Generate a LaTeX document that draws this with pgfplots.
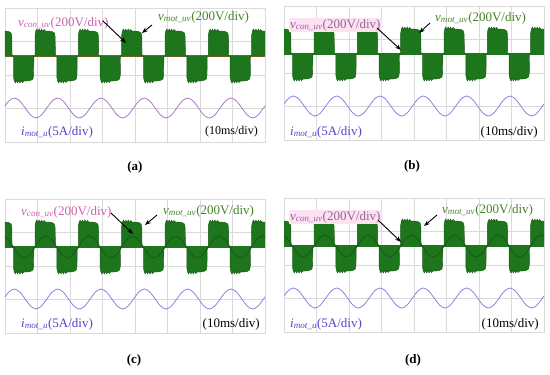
\documentclass[border=0pt]{standalone}
\usepackage{fontspec}
\setmainfont{Liberation Serif}
\usepackage{pgfplots}
\usepackage{pgfplotstable}
\pgfplotsset{compat=1.18}
\usetikzlibrary{arrows.meta}
\definecolor{scopegreen}{RGB}{30,118,28}
\definecolor{innergreen}{RGB}{24,92,24}
\definecolor{gridgray}{RGB}{218,218,218}
\definecolor{curA}{RGB}{170,120,200}
\definecolor{curB}{RGB}{150,125,225}
\definecolor{vconA}{RGB}{205,95,175}
\definecolor{vconB}{RGB}{150,100,150}
\definecolor{vconbg}{RGB}{252,226,240}
\definecolor{vmotc}{RGB}{70,130,40}
\definecolor{ilab}{RGB}{80,70,205}
\definecolor{zeroA}{RGB}{120,95,35}
\newcommand{\vcon}{\textit{v}\textsubscript{\textit{con\_uv}}}
\newcommand{\vmot}{\textit{v}\textsubscript{\textit{mot\_uv}}}
\newcommand{\imot}{\textit{i}\textsubscript{\textit{mot\_u}}}

% green envelope of v_mot_uv (panel pixel units, zero level 86)
\pgfplotstableread{
x y
-13.33 86
-13.33 107
-12.53 111
-11.53 113
-10.33 110.5
-9.13 113
-7.93 110.5
-6.73 113
-5.53 110.5
-4.33 112.5
-2.83 111
0.17 111
3.67 110.5
6.17 109
6.87 105
7.07 86
8.47 86
8.47 65
9.27 61
10.27 59
11.47 61.5
12.67 59
13.87 61.5
15.07 59
16.27 61.5
17.47 59.5
18.97 61
21.97 61
25.47 61.5
27.97 63
28.67 67
28.87 86
30 86
30 107
30.8 111
31.8 113
33.0 110.5
34.2 113
35.4 110.5
36.6 113
37.8 110.5
39.0 112.5
40.5 111
43.5 111
47.0 110.5
49.5 109
50.2 105
50.4 86
51.8 86
51.8 65
52.6 61
53.6 59
54.8 61.5
56.0 59
57.2 61.5
58.4 59
59.6 61.5
60.8 59.5
62.3 61
65.3 61
68.8 61.5
71.3 63
72.0 67
72.2 86
73.33 86
73.33 107
74.13 111
75.13 113
76.33 110.5
77.53 113
78.73 110.5
79.93 113
81.13 110.5
82.33 112.5
83.83 111
86.83 111
90.33 110.5
92.83 109
93.53 105
93.73 86
95.13 86
95.13 65
95.93 61
96.93 59
98.13 61.5
99.33 59
100.53 61.5
101.73 59
102.93 61.5
104.13 59.5
105.63 61
108.63 61
112.13 61.5
114.63 63
115.33 67
115.53 86
116.67 86
116.67 107
117.47 111
118.47 113
119.67 110.5
120.87 113
122.07 110.5
123.27 113
124.47 110.5
125.67 112.5
127.17 111
130.17 111
133.67 110.5
136.17 109
136.87 105
137.07 86
138.47 86
138.47 65
139.27 61
140.27 59
141.47 61.5
142.67 59
143.87 61.5
145.07 59
146.27 61.5
147.47 59.5
148.97 61
151.97 61
155.47 61.5
157.97 63
158.67 67
158.87 86
160 86
160 107
160.8 111
161.8 113
163.0 110.5
164.2 113
165.4 110.5
166.6 113
167.8 110.5
169.0 112.5
170.5 111
173.5 111
177.0 110.5
179.5 109
180.2 105
180.4 86
181.8 86
181.8 65
182.6 61
183.6 59
184.8 61.5
186.0 59
187.2 61.5
188.4 59
189.6 61.5
190.8 59.5
192.3 61
195.3 61
198.8 61.5
201.3 63
202.0 67
202.2 86
203.33 86
203.33 107
204.13 111
205.13 113
206.33 110.5
207.53 113
208.73 110.5
209.93 113
211.13 110.5
212.33 112.5
213.83 111
216.83 111
220.33 110.5
222.83 109
223.53 105
223.73 86
225.13 86
225.13 65
225.93 61
226.93 59
228.13 61.5
229.33 59
230.53 61.5
231.73 59
232.93 61.5
234.13 59.5
235.63 61
238.63 61
242.13 61.5
244.63 63
245.33 67
245.53 86
246.67 86
246.67 107
247.47 111
248.47 113
249.67 110.5
250.87 113
252.07 110.5
253.27 113
254.47 110.5
255.67 112.5
257.17 111
260.17 111
263.67 110.5
263.67 86
}\envtab

% inner fundamental (dark trace inside the blocks)
\pgfplotstableread{
x y
-13.33 86
-7.92 93.8
-2.50 97
2.92 93.8
8.33 86
13.75 78.2
19.17 75
24.58 78.2
30.00 86
35.42 93.8
40.83 97
46.25 93.8
51.67 86
57.08 78.2
62.50 75
67.92 78.2
73.33 86
78.75 93.8
84.17 97
89.58 93.8
95.00 86
100.42 78.2
105.83 75
111.25 78.2
116.67 86
122.08 93.8
127.50 97
132.92 93.8
138.33 86
143.75 78.2
149.17 75
154.58 78.2
160.00 86
165.42 93.8
170.83 97
176.25 93.8
181.67 86
187.08 78.2
192.50 75
197.92 78.2
203.33 86
208.75 93.8
214.17 97
219.58 93.8
225.00 86
230.42 78.2
235.83 75
241.25 78.2
246.67 86
252.08 93.8
257.50 97
262.92 93.8
}\innertab

% motor current i_mot_u
\pgfplotstableread{
x y
-1.5 34
3.92 41.07
9.33 44
14.75 41.07
20.17 34
25.58 26.93
31.0 24
36.42 26.93
41.83 34
47.25 41.07
52.67 44
58.08 41.07
63.5 34
68.92 26.93
74.33 24
79.75 26.93
85.17 34
90.58 41.07
96.0 44
101.42 41.07
106.83 34
112.25 26.93
117.67 24
123.08 26.93
128.5 34
133.92 41.07
139.33 44
144.75 41.07
150.17 34
155.58 26.93
161.0 24
166.42 26.93
171.83 34
177.25 41.07
182.67 44
188.08 41.07
193.5 34
198.92 26.93
204.33 24
209.75 26.93
215.17 34
220.58 41.07
226.0 44
231.42 41.07
236.83 34
242.25 26.93
247.67 24
253.08 26.93
258.5 34
263.92 41.07
}\curtab

\pgfplotsset{
  scope/.style={
    width=260pt, height=134pt, scale only axis,
    xmin=0, xmax=260, ymin=0, ymax=134,
    xtick={0,32.5,65,97.5,130,162.5,195,227.5,260},
    ytick={0,33.5,67,100.5,134},
    grid=major, grid style={draw=gridgray, line width=0.5pt},
    axis line style={draw=gridgray},
    xticklabels={}, yticklabels={},
    major tick length=0pt,
    clip mode=individual,
    anchor=north west,
  },
}
\tikzset{
  lab/.style={font=\fontsize{13}{15}\selectfont, inner sep=1pt},
  labs/.style={font=\fontsize{12}{14}\selectfont, inner sep=1pt},
  arr/.style={-{Stealth[length=6pt,width=4.5pt]}, line width=0.9pt, black},
}

\begin{document}
\begin{tikzpicture}
\path[use as bounding box] (0pt,0pt) rectangle (550pt,-375pt);

% ---------- (a)
\begin{axis}[scope, at={(5pt,-8pt)}]
\addplot[zeroA, line width=1.2pt] coordinates {(0,86) (260,86)};
\addplot[fill=scopegreen, draw=scopegreen!75!black, line width=0.4pt] table {\envtab};
\addplot[curA, line width=0.8pt, smooth] table {\curtab};
\node[lab, anchor=west] at (axis cs:12,119) {\color{vconA}\vcon(200V/div)};
\node[lab, anchor=west] at (axis cs:152,125) {\color{vmotc}\vmot(200V/div)};
\node[lab, anchor=west] at (axis cs:15,10) {\color{ilab}\imot(5A/div)};
\node[labs, anchor=east] at (axis cs:254,10) {(10ms/div)};
\draw[arr] (axis cs:98,121) -- (axis cs:121,99);
\draw[arr] (axis cs:147,117) -- (axis cs:137,109);
\end{axis}

% ---------- (b)
\begin{axis}[scope, at={(284pt,-6pt)}]
\addplot[scopegreen, line width=1.5pt] coordinates {(0,86) (260,86)};
\addplot[fill=scopegreen, draw=scopegreen!75!black, line width=0.4pt] table {\envtab};
\addplot[curB, line width=0.8pt, smooth] table {\curtab};
\node[lab, anchor=west, fill=vconbg] at (axis cs:5,115) {\color{vconB}\vcon(200V/div)};
\node[lab, anchor=west] at (axis cs:150,122) {\color{vmotc}\vmot(200V/div)};
\node[lab, anchor=west] at (axis cs:5,8) {\color{ilab}\imot(5A/div)};
\node[lab, anchor=east] at (axis cs:255,8) {(10ms/div)};
\draw[arr] (axis cs:93,112) -- (axis cs:117,90);
\draw[arr] (axis cs:146,117) -- (axis cs:135,107);
\end{axis}

% ---------- (c)
\begin{axis}[scope, at={(5pt,-199pt)}]
\addplot[scopegreen, line width=1.5pt] coordinates {(0,86) (260,86)};
\addplot[fill=scopegreen, draw=scopegreen!75!black, line width=0.4pt] table {\envtab};
\addplot[innergreen, line width=1pt, smooth] table {\innertab};
\addplot[curB, line width=0.8pt, smooth] table {\curtab};
\node[lab, anchor=west] at (axis cs:15,121) {\color{vconA}\vcon(200V/div)};
\node[lab, anchor=west] at (axis cs:157,122) {\color{vmotc}\vmot(200V/div)};
\node[lab, anchor=west] at (axis cs:15,9) {\color{ilab}\imot(5A/div)};
\node[lab, anchor=east] at (axis cs:256,9) {(10ms/div)};
\draw[arr] (axis cs:106,120) -- (axis cs:128,99);
\draw[arr] (axis cs:152,118) -- (axis cs:140,108);
\end{axis}

% ---------- (d)
\begin{axis}[scope, at={(284pt,-198pt)}]
\addplot[scopegreen, line width=1.5pt] coordinates {(0,86) (260,86)};
\addplot[fill=scopegreen, draw=scopegreen!75!black, line width=0.4pt] table {\envtab};
\addplot[innergreen, line width=1pt, smooth] table {\innertab};
\addplot[curB, line width=0.8pt, smooth] table {\curtab};
\node[lab, anchor=west, fill=vconbg] at (axis cs:5,115) {\color{vconB}\vcon(200V/div)};
\node[lab, anchor=west] at (axis cs:157,122) {\color{vmotc}\vmot(200V/div)};
\node[lab, anchor=west] at (axis cs:5,8) {\color{ilab}\imot(5A/div)};
\node[lab, anchor=east] at (axis cs:256,8) {(10ms/div)};
\draw[arr] (axis cs:94,112) -- (axis cs:117,90);
\draw[arr] (axis cs:153,117) -- (axis cs:140,106);
\end{axis}

\node[lab] at (135pt,-167pt) {\textbf{(a)}};
\node[lab] at (412pt,-166pt) {\textbf{(b)}};
\node[lab] at (134pt,-360pt) {\textbf{(c)}};
\node[lab] at (413pt,-360pt) {\textbf{(d)}};
\end{tikzpicture}
\end{document}
